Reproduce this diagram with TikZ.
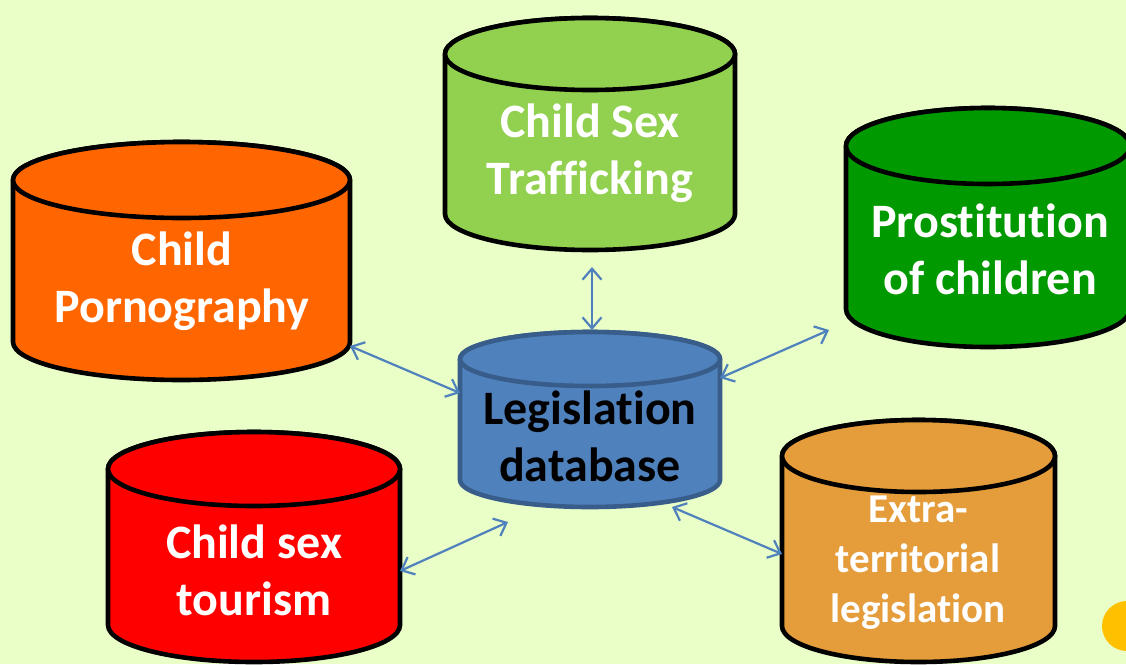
\documentclass[tikz,border=0pt]{standalone}
\usepackage{fontspec}
\setmainfont{Carlito}[Ligatures=NoCommon]
\usetikzlibrary{arrows.meta}

\definecolor{bgyellow}{RGB}{234,254,200}
\definecolor{pornorange}{RGB}{255,102,0}
\definecolor{trafgreen}{RGB}{146,208,80}
\definecolor{prostgreen}{RGB}{0,153,0}
\definecolor{dbblue}{RGB}{79,129,189}
\definecolor{dbedge}{RGB}{56,93,138}
\definecolor{tourred}{RGB}{255,0,0}
\definecolor{extratan}{RGB}{229,156,58}
\definecolor{dotyellow}{RGB}{255,192,0}

\tikzset{
	drumline/.style={line width=4.6pt, draw=black, line join=round},
	drumtext/.style={text=white, align=center, font=\bfseries\fontsize{48}{57}\selectfont},
	link/.style={draw=dbblue, line width=2.2pt, {Straight Barb[length=11pt,width=19pt]}-{Straight Barb[length=11pt,width=19pt]}}
}

% #1 style, #2 left, #3 right, #4 top, #5 bottom, #6 y radius
\newcommand{\drum}[6]{%
	\pgfmathsetmacro\drumcx{(#2+#3)/2}
	\pgfmathsetmacro\drumrx{(#3-#2)/2}
	\draw[#1] (#2,-#4-#6) -- (#2,-#5+#6) arc (180:360:\drumrx pt and #6pt) -- (#3,-#4-#6) arc (0:180:\drumrx pt and #6pt) -- cycle;
	\draw[#1] (\drumcx,-#4-#6) ellipse (\drumrx pt and #6pt);
}

\begin{document}
\begin{tikzpicture}[x=1pt, y=1pt]
		%%%%% BACKGROUND %%%%%
		\fill[bgyellow] (0,0) rectangle (1126,-664);
		\useasboundingbox (0,0) rectangle (1126,-664);
		
		%%%%% DRUMS %%%%%
		\drum{drumline, fill=pornorange}{13}{350}{142}{380}{38}
		\drum{drumline, fill=trafgreen}{445}{735}{18}{250}{36}
		\drum{drumline, fill=prostgreen}{846}{1130}{108}{347}{38}
		\drum{drumline, draw=dbedge, fill=dbblue}{460}{720}{332}{507}{27}
		\drum{drumline, fill=tourred}{108}{400}{432}{662}{37}
		\drum{drumline, fill=extratan}{782}{1055}{420}{662}{36}
		
		\fill[dotyellow] (1127,-626) circle (25);
		
		%%%%% LABELS %%%%%
		\node[drumtext] (porn) at (182,-281) {Child\\Pornography};
		\node[drumtext] (traffic) at (590,-153) {Child Sex\\Trafficking};
		\node[drumtext] (prost) at (990,-249) {Prostitution\\of children};
		\node[drumtext, text=black] (legis) at (590,-436) {Legislation\\database};
		\node[drumtext] (tourism) at (254,-570) {Child sex\\tourism};
		\node[drumtext, font=\bfseries\fontsize{41}{50}\selectfont] (extra) at (918,-563) {Extra-\\territorial\\legislation};
		
		%%%%% LINKS %%%%%
		\coordinate (pornend) at (350,-346);
		\coordinate (legisW) at (460,-393);
		\coordinate (trafend) at (592,-267);
		\coordinate (legisN) at (592,-330);
		\coordinate (prostend) at (829,-330);
		\coordinate (legisE) at (720,-378);
		\coordinate (tourend) at (400,-571);
		\coordinate (legisSW) at (508,-522);
		\coordinate (extraend) at (782,-554);
		\coordinate (legisSE) at (672,-507);
		
		\draw[link] (pornend) -- (legisW);
		\draw[link] (trafend) -- (legisN);
		\draw[link] (legisE) -- (prostend);
		\draw[link] (tourend) -- (legisSW);
		\draw[link] (legisSE) -- (extraend);
		
	\end{tikzpicture}
\end{document}
